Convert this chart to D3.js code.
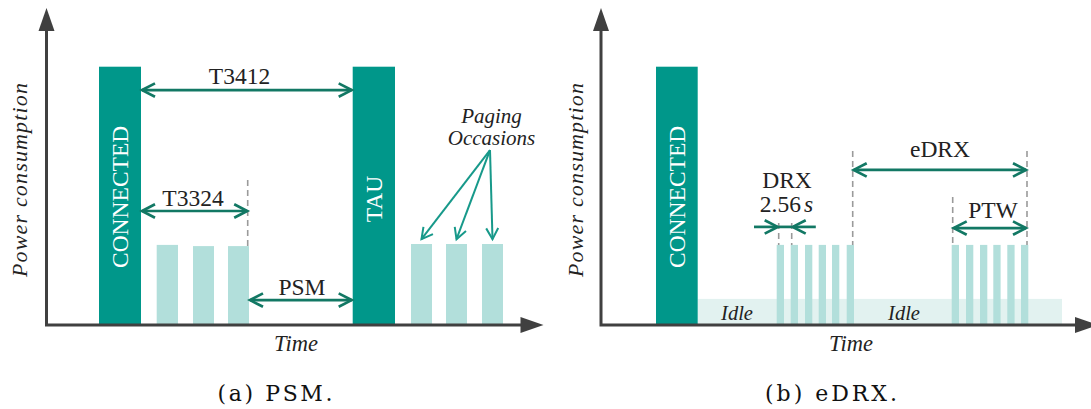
<!DOCTYPE html>
<html><head><meta charset="utf-8">
<script src="https://cdn.jsdelivr.net/npm/d3@7"></script>
<style>
body{margin:0;background:#fff}
svg{display:block}
</style>
</head><body>
<svg id="c" width="1091" height="409"></svg>
<script>
// ---------- DATA (time units / power units) ----------
// Panel (a) PSM
const psmStateNames  = ["CONNECTED", "TAU"];
const psmStateStart  = [10.5, 61.24];
const psmStateEnd    = [18.9, 69.7];
const psmStatePower  = [86.1, 86.1];
const psmIdleStart   = [22.04, 29.3, 36.3];
const psmIdleEnd     = [26.3, 33.5, 40.5];
const psmIdlePower   = [26.7, 26.3, 26.3];
const psmPOStart     = [72.9, 79.9, 87.1];
const psmPOEnd       = [77.1, 84.1, 91.3];
const psmPOPower     = [27.0, 27.0, 27.0];

// Panel (b) eDRX
const edrxStateNames = ["CONNECTED"];
const edrxStateStart = [11.0];
const edrxStateEnd   = [19.34];
const edrxStatePower = [86.1];
const edrxIdleStart  = [19.34];
const edrxIdleEnd    = [92.2];
const edrxIdlePower  = [8.7];
const drxPOStart     = [35.14, 37.94, 40.8, 43.54, 46.2, 49.14];
const ptwPOStart     = [70.14, 73.0, 75.8, 78.46, 81.26, 84.0];
const edrxPOWidth    = [1.46];
const edrxPOPower    = [26.7];

const svg = d3.select("#c");

function fontSpec(size, italic, fam) {
  return `${italic ? "italic " : ""}${size}px '${fam || "Liberation Serif"}'`;
}

function draw() {
const y = d3.scaleLinear().domain([0, 100]).range([325, 25]);
const xa = d3.scaleLinear().domain([0, 100]).range([46.5, 546.5]);
const xb = d3.scaleLinear().domain([0, 100]).range([601, 1101]);

const C_DARK = "#00978a";
const C_LIGHT = "#b2dfdb";
const C_IDLE = "#e2f2f0";
const C_AXIS = "#404040";
const C_ANN = "#127864";
const C_PAGE = "#17998a";
const C_TXT = "#222";
const C_DASH = "#9a9a9a";

const gMarks = svg.append("g");

function chevron(tx, ty, dx, dy, L, H, color, w) {
  const len = Math.hypot(dx, dy), ux = dx / len, uy = dy / len;
  const nx = -uy, ny = ux;
  const p = d3.path();
  p.moveTo(tx - L * ux + H * nx, ty - L * uy + H * ny);
  p.lineTo(tx, ty);
  p.lineTo(tx - L * ux - H * nx, ty - L * uy - H * ny);
  gMarks.append("path").attr("d", p.toString()).attr("fill", "none")
    .attr("stroke", color).attr("stroke-width", w)
    .attr("stroke-linecap", "butt").attr("stroke-linejoin", "miter");
}
function line(x1, y1, x2, y2, color, w, dash) {
  const l = gMarks.append("line").attr("x1", x1).attr("y1", y1).attr("x2", x2).attr("y2", y2)
    .attr("stroke", color).attr("stroke-width", w);
  if (dash) l.attr("stroke-dasharray", dash);
  return l;
}
function dblArrow(x1, x2, yy) {
  line(x1 + 1, yy, x2 - 1, yy, C_ANN, 2.7);
  chevron(x1 + 1, yy, -1, 0, 13, 6.7, C_ANN, 2.7);
  chevron(x2 - 1, yy, 1, 0, 13, 6.7, C_ANN, 2.7);
}
const labels = [];
function label(txt, x, yy, opts = {}) {
  labels.push({ txt, x, yy, opts });
}
function vText(txt, cx, cy, opts = {}) {
  labels.push({ txt, x: cx, yy: cy, opts: Object.assign({ rot: true }, opts) });
}
function axes(x) {
  const x0 = x(0), y0 = y(0);
  const yTip = y(105.7), xTip = x(99.4);
  const head = 23, hw = 8;
  gMarks.append("path")
    .attr("d", `M${x0},${yTip + head - 1}L${x0},${y0}L${xTip - head + 1},${y0}`)
    .attr("fill", "none").attr("stroke", C_AXIS).attr("stroke-width", 3)
    .attr("stroke-linejoin", "miter").attr("stroke-linecap", "square");
  gMarks.append("path").attr("d", `M${x0},${yTip}L${x0 - hw},${yTip + head}L${x0 + hw},${yTip + head}Z`).attr("fill", C_AXIS);
  gMarks.append("path").attr("d", `M${xTip},${y0}L${xTip - head},${y0 - hw}L${xTip - head},${y0 + hw}Z`).attr("fill", C_AXIS);
}
function bars(starts, ends, powers, x, color) {
  gMarks.selectAll(null).data(starts).join("rect")
    .attr("x", (d) => x(d)).attr("width", (d, i) => x(ends[i]) - x(d))
    .attr("y", (d, i) => y(powers[i])).attr("height", (d, i) => y(0) - y(powers[i]))
    .attr("fill", color);
}

// ---------- PANEL A ----------
bars(psmIdleStart, psmIdleEnd, psmIdlePower, xa, C_LIGHT);
bars(psmPOStart, psmPOEnd, psmPOPower, xa, C_LIGHT);
bars(psmStateStart, psmStateEnd, psmStatePower, xa, C_DARK);
psmStateNames.forEach((n, i) => {
  const cx = (xa(psmStateStart[i]) + xa(psmStateEnd[i])) / 2 + 7.8;
  vText(n, cx, y(i === 0 ? 42.7 : 42.0), { fill: "#fff" });
});
line(xa(40.24), y(48.3), xa(40.24), y(psmIdlePower[2]), C_DASH, 1.6, "6,4");
dblArrow(xa(psmStateEnd[0]), xa(psmStateStart[1]), y(78.3));
label("T3412", xa(38.6), y(80.3));
dblArrow(xa(psmStateEnd[0]), xa(40.34), y(38));
label("T3324", xa(29.3), y(39.7));
dblArrow(xa(psmIdleEnd[2]), xa(psmStateStart[1]), y(8.3));
label("PSM", xa(51.1), y(10));
label("Paging", xa(89), y(67.4), { italic: true, size: 21 });
label("Occasions", xa(89), y(60), { italic: true, size: 21 });
psmPOStart.forEach((s, i) => {
  const sx = xa(88.7), sy = y(58.3);
  const ex = (xa(s) + xa(psmPOEnd[i])) / 2, ey = y(psmPOPower[i] + 1.6);
  line(sx, sy, ex, ey, C_PAGE, 2);
  chevron(ex, ey, ex - sx, ey - sy, 11, 6, C_PAGE, 2);
});
axes(xa);
label("Time", xa(49.9), 351, { italic: true, size: 22.5 });
vText("Power consumption", 27, 180, { italic: true, size: 22, len: 194 });
label("(a) PSM.", 275, 401, { size: 22, family: "DejaVu Serif", fill: "#111", len: 115 });

// ---------- PANEL B ----------
bars(edrxIdleStart, edrxIdleEnd, edrxIdlePower, xb, C_IDLE);
const allPO = drxPOStart.concat(ptwPOStart);
bars(allPO, allPO.map((d) => d + edrxPOWidth[0]), allPO.map(() => edrxPOPower[0]), xb, C_LIGHT);
bars(edrxStateStart, edrxStateEnd, edrxStatePower, xb, C_DARK);
edrxStateNames.forEach((n, i) => {
  const cx = (xb(edrxStateStart[i]) + xb(edrxStateEnd[i])) / 2 + 7.8;
  vText(n, cx, y(42.7), { fill: "#fff" });
});
const poTop = y(edrxPOPower[0]);
line(xb(35.54), y(34), xb(35.54), poTop, C_DASH, 1.6, "6,4");
line(xb(38.14), y(34), xb(38.14), poTop, C_DASH, 1.6, "6,4");
line(xb(50.34), y(58), xb(50.34), poTop, C_DASH, 1.6, "6,4");
line(xb(85.2), y(58), xb(85.2), poTop, C_DASH, 1.6, "6,4");
line(xb(70.34), y(42.7), xb(70.34), poTop, C_DASH, 1.6, "6,4");
dblArrow(xb(50.34), xb(85.2), y(51.7));
label("eDRX", xb(67.8), y(56));
dblArrow(xb(70.34), xb(85.2), y(32.3));
label("PTW", xb(78.4), y(35.7));
const dy = y(32.7);
line(xb(30.6), dy, xb(35.54) - 1, dy, C_ANN, 2.7);
chevron(xb(35.54) - 1, dy, 1, 0, 13, 6.7, C_ANN, 2.7);
line(xb(35.54), dy, xb(38.14), dy, C_ANN, 2.7);
line(xb(38.14) + 1, dy, xb(42.96), dy, C_ANN, 2.7);
chevron(xb(38.14) + 1, dy, -1, 0, 13, 6.7, C_ANN, 2.7);
label("DRX", xb(37.2), y(45.7));
label("Idle", xb(27.2), 320, { italic: true, size: 20.5 });
label("Idle", xb(60.6), 320, { italic: true, size: 20.5 });
axes(xb);
label("Time", xb(50), 351, { italic: true, size: 22.5 });
vText("Power consumption", 583, 180, { italic: true, size: 22, len: 194 });
label("(b) eDRX.", 831, 401, { size: 22, family: "DejaVu Serif", fill: "#111", len: 132 });

// ---------- TEXTS ----------
labels.forEach((l) => {
  const o = l.opts;
  const t = svg.append("text")
    .attr("text-anchor", "middle")
    .attr("fill", o.fill || C_TXT)
    .style("font", fontSpec(o.size || 23.5, o.italic, o.family))
    .text(l.txt);
  if (o.rot) t.attr("transform", `translate(${l.x},${l.yy}) rotate(-90)`);
  else t.attr("x", l.x).attr("y", l.yy);
  if (o.len) t.attr("textLength", o.len).attr("lengthAdjust", "spacing");
});
const t256 = svg.append("text").attr("x", xb(37.1)).attr("y", y(37.7))
  .attr("text-anchor", "middle").attr("fill", C_TXT)
  .style("font", fontSpec(23.5, false));
t256.append("tspan").text("2.56");
t256.append("tspan").attr("dx", 3).style("font", fontSpec(23.5, true)).text("s");
}

let drawn = false;
const go = () => { if (!drawn) { drawn = true; draw(); } };
const loads = ["23px 'Liberation Serif'", "italic 23px 'Liberation Serif'", "22px 'DejaVu Serif'"]
  .map((f) => (document.fonts && document.fonts.load) ? document.fonts.load(f).catch(() => null) : Promise.resolve());
Promise.all(loads).then(go);
setTimeout(go, 300);
</script>
</body></html>
